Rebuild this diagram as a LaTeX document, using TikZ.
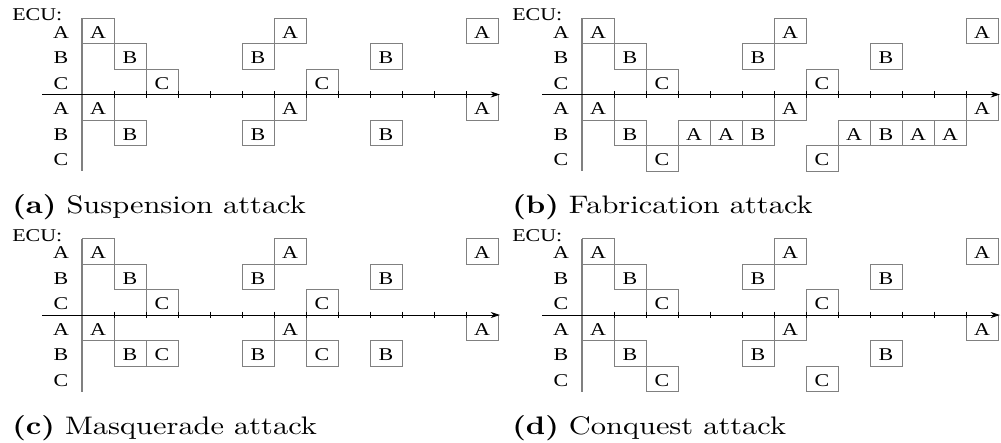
\documentclass[tikz,border=0pt]{standalone}
\usepackage{fontspec}
\newfontfamily\tnr{Liberation Serif}
\newfontfamily\lmten{lmroman10}[Extension=.otf, UprightFont=*-regular, BoldFont=*-bold]
\usetikzlibrary{arrows.meta}
\def\sx{1.22}
\tikzset{
  x=0.75pt, y=-0.75pt,
  tb/.style={draw=black!50, line width=0.6pt, minimum width=24pt, minimum height=19.125pt,
    inner sep=0pt, font=\tnr\fontsize{13.5}{13.5}\selectfont, text height=11.2pt, text depth=0pt},
  lab/.style={inner sep=0pt, font=\tnr\fontsize{13.5}{13.5}\selectfont, text height=11.2pt, text depth=0pt},
  captxt/.style={inner sep=0pt, font=\lmten\fontsize{19}{23}\selectfont},
  vline/.style={draw=black!50, line width=0.8pt},
  axisline/.style={draw=black, line width=0.6pt, -{Stealth[length=7pt,width=4.5pt]}},
  tickline/.style={draw=black, line width=0.5pt}
}
\def\rA{-63.75}\def\rB{-38.25}\def\rC{-12.75}
\def\sA{12.75}\def\sB{38.25}\def\sC{63.75}
\newcommand\bx[4]{\node[tb] (#1) at ({16+32*#2},#3) {\scalebox{\sx}[1]{#4}};}
\newcommand\rl[3]{\node[lab] (#1) at (-21,#2) {\scalebox{\sx}[1]{#3}};}
\newcommand\panelbase[1]{%
  \coordinate (#1-vt) at (0,-76.5);
  \coordinate (#1-vb) at (0,76.5);
  \draw[vline] (#1-vt) -- (#1-vb);
  \node[lab, anchor=west] (#1-ecu) at (-70,-81) {\scalebox{\sx}[1]{ECU:}};
  \rl{#1-la}{\rA}{A}
  \rl{#1-lb}{\rB}{B}
  \rl{#1-lc}{\rC}{C}
  \rl{#1-ma}{\sA}{A}
  \rl{#1-mb}{\sB}{B}
  \rl{#1-mc}{\sC}{C}
  \bx{#1-tA0}{0}{\rA}{A}
  \bx{#1-tB1}{1}{\rB}{B}
  \bx{#1-tC2}{2}{\rC}{C}
  \bx{#1-tB5}{5}{\rB}{B}
  \bx{#1-tA6}{6}{\rA}{A}
  \bx{#1-tC7}{7}{\rC}{C}
  \bx{#1-tB9}{9}{\rB}{B}
  \bx{#1-tA12}{12}{\rA}{A}
  \bx{#1-bA0}{0}{\sA}{A}
  \bx{#1-bB1}{1}{\sB}{B}
  \bx{#1-bB5}{5}{\sB}{B}
  \bx{#1-bA6}{6}{\sA}{A}
  \bx{#1-bB9}{9}{\sB}{B}
  \bx{#1-bA12}{12}{\sA}{A}
}
\newcommand\panelaxis[3]{%
  \foreach \k in {1,...,12} {\draw[tickline] ({32*\k},-3.5) -- ({32*\k},3);}
  \coordinate (#1-as) at (-40,0);
  \coordinate (#1-ae) at (418,0);
  \draw[axisline] (#1-as) -- (#1-ae);
  \node[captxt, anchor=base west] (#1-cap) at (-70,119.3) {\scalebox{1.2}[1]{\textbf{(#2)} #3}};
}
\begin{document}
\begin{tikzpicture}
\useasboundingbox (0,0) rectangle (1001,443);
% (a)
\begin{scope}[shift={(82,94.5)}]
  \panelbase{a}
  \panelaxis{a}{a}{Suspension attack}
\end{scope}
% (b)
\begin{scope}[shift={(582,94.5)}]
  \panelbase{b}
  \bx{b-bC2}{2}{\sC}{C}
  \bx{b-bA3}{3}{\sB}{A}
  \bx{b-bA4}{4}{\sB}{A}
  \bx{b-bC7}{7}{\sC}{C}
  \bx{b-bA8}{8}{\sB}{A}
  \bx{b-bA10}{10}{\sB}{A}
  \bx{b-bA11}{11}{\sB}{A}
  \panelaxis{b}{b}{Fabrication attack}
\end{scope}
% (c)
\begin{scope}[shift={(82,315)}]
  \panelbase{c}
  \bx{c-bC2}{2}{\sB}{C}
  \bx{c-bC7}{7}{\sB}{C}
  \panelaxis{c}{c}{Masquerade attack}
\end{scope}
% (d)
\begin{scope}[shift={(582,315)}]
  \panelbase{d}
  \bx{d-bC2}{2}{\sC}{C}
  \bx{d-bC7}{7}{\sC}{C}
  \panelaxis{d}{d}{Conquest attack}
\end{scope}
\end{tikzpicture}
\end{document}
